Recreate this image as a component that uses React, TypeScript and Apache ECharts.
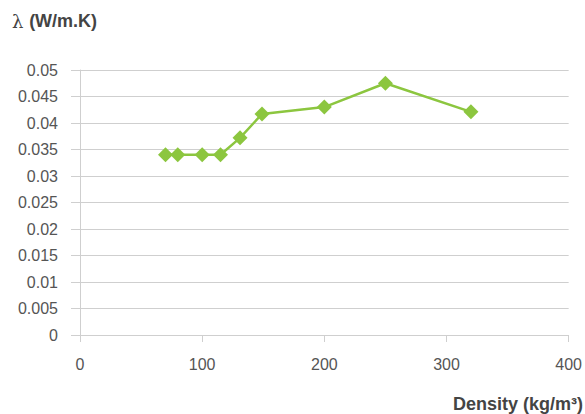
import React, { useEffect, useRef } from "react";
import * as echarts from "echarts";

const densities = [70, 80, 100, 115, 131, 149, 200, 250, 320];
const conductivity = [0.034, 0.034, 0.034, 0.034, 0.0372, 0.0417, 0.043, 0.0475, 0.0421];
const yTitle = "λ";
const yUnit = "(W/m.K)";
const xTitle = "Density (kg/m³)";

export default function App() {
  const ref = useRef<HTMLDivElement>(null);
  useEffect(() => {
    const chart = echarts.init(ref.current!, null, { renderer: "svg" });
    const font = "Liberation Sans, Arial, Helvetica, sans-serif";
    chart.setOption({
      animation: false,
      grid: { left: 80, right: 12, top: 70, bottom: 79 },
      xAxis: {
        type: "value",
        min: 0,
        max: 400,
        interval: 100,
        axisLine: { show: true, lineStyle: { color: "#cfcfcf" } },
        axisTick: { show: true, length: 7, lineStyle: { color: "#cfcfcf" } },
        axisLabel: { margin: 21, color: "#555", fontSize: 16, fontFamily: font },
        splitLine: { show: false },
      },
      yAxis: {
        type: "value",
        min: 0,
        max: 0.05,
        interval: 0.005,
        axisLine: { show: true, lineStyle: { color: "#cfcfcf" } },
        axisTick: { show: true, length: 9, lineStyle: { color: "#cfcfcf" } },
        axisLabel: {
          margin: 22,
          color: "#555",
          fontSize: 16,
          fontFamily: font,
          formatter: (v: number) => String(parseFloat(v.toFixed(4))),
        },
        splitLine: { show: true, lineStyle: { color: "#cfcfcf" } },
      },
      series: [
        {
          type: "line",
          data: densities.map((d, i) => [d, conductivity[i]]),
          symbol: "diamond",
          symbolSize: 15,
          lineStyle: { color: "#8cc63f", width: 2.5 },
          itemStyle: { color: "#8cc63f" },
        },
      ],
      graphic: [
        {
          type: "text",
          left: 12,
          top: 12,
          style: {
            text: "{a|" + yTitle + " }{b|" + yUnit + "}",
            rich: {
              a: { fontSize: 18, fontFamily: "DejaVu Serif, serif", fill: "#444" },
              b: { fontSize: 18, fontFamily: font, fontWeight: "bold", fill: "#444" },
            },
          },
        },
        {
          type: "text",
          x: 453,
          y: 395,
          style: {
            text: xTitle,
            fontSize: 18,
            fontWeight: "bold",
            fontFamily: font,
            fill: "#444",
          },
        },
      ],
    });
    return () => chart.dispose();
  }, []);
  return <div ref={ref} style={{ width: 585, height: 414, position: "absolute", left: 0, top: 0 }} />;
}
